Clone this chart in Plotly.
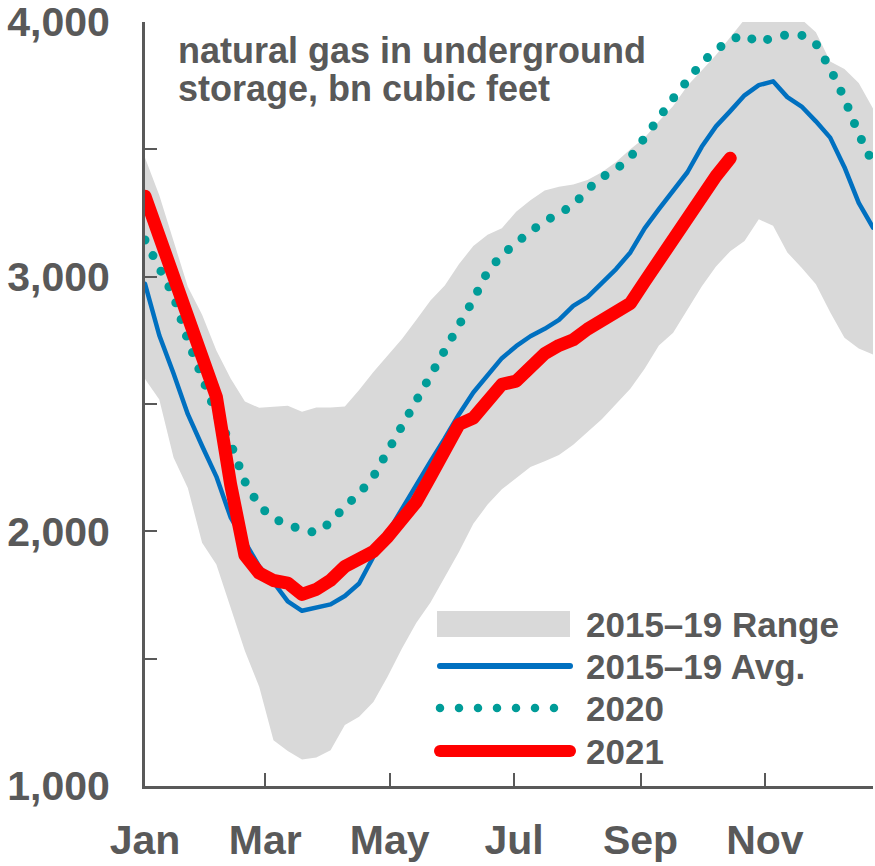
import plotly.graph_objects as go
import pandas as pd

# weekly storage readings, bn cubic feet (52 weeks on a 2021 calendar)
weeks = pd.date_range("2021-01-01", periods=52, freq="7D")

range_low = [2598, 2518, 2290, 2170, 1955, 1870, 1700, 1530, 1390, 1180,
             1137, 1104, 1112, 1140, 1240, 1272, 1330, 1430, 1540, 1640,
             1721, 1820, 1920, 2030, 2105, 2165, 2210, 2253, 2275, 2300,
             2340, 2390, 2440, 2500, 2560, 2638, 2730, 2780, 2870, 2961,
             3040, 3100, 3140, 3225, 3200, 3095, 3035, 2970, 2860, 2760,
             2718, 2694]
range_high = [3467, 3320, 3140, 2960, 2850, 2710, 2600, 2510, 2485, 2490,
              2493, 2470, 2486, 2486, 2490, 2555, 2626, 2690, 2755, 2830,
              2906, 2965, 3050, 3120, 3165, 3190, 3255, 3300, 3338, 3353,
              3362, 3380, 3410, 3450, 3500, 3545, 3610, 3670, 3750, 3810,
              3870, 3940, 4010, 4050, 4080, 4060, 4010, 3960, 3845, 3815,
              3760, 3660]
avg_1519 = [2972, 2770, 2620, 2460, 2335, 2215, 2055, 1960, 1862, 1800,
            1725, 1688, 1702, 1713, 1746, 1795, 1900, 1995, 2085, 2180,
            2275, 2365, 2460, 2545, 2615, 2680, 2727, 2766, 2795, 2830,
            2885, 2920, 2975, 3030, 3095, 3190, 3265, 3335, 3410, 3510,
            3590, 3650, 3712, 3752, 3767, 3705, 3668, 3610, 3546, 3430,
            3290, 3193]
y2020 = [3144, 3040, 2925, 2750, 2595, 2460, 2345, 2195, 2100, 2050,
         2028, 2005, 1995, 2035, 2098, 2148, 2215, 2317, 2418, 2518,
         2613, 2710, 2810, 2910, 3020, 3085, 3137, 3178, 3217, 3250,
         3280, 3342, 3390, 3422, 3468, 3546, 3628, 3700, 3770, 3840,
         3890, 3930, 3950, 3918, 3940, 3950, 3948, 3915, 3817, 3700,
         3560, 3445]
y2021 = [3316, 3157, 3000, 2840, 2680, 2528, 2184, 1906, 1836, 1807,
         1797, 1752, 1772, 1808, 1862, 1897, 1921, 1978, 2052, 2115,
         2215, 2320, 2420, 2445, 2510, 2577, 2590, 2640, 2698, 2730,
         2752, 2794, 2825, 2850, 2895, 2980, 3065, 3145, 3220, 3320,
         3395, 3465]

month_ticks = ["2021-01-01", "2021-03-01", "2021-05-01", "2021-07-01",
               "2021-09-01", "2021-11-01"]
month_labels = ["Jan", "Mar", "May", "Jul", "Sep", "Nov"]
y_ticks = [1000, 1500, 2000, 2500, 3000, 3500, 4000]
y_labels = ["1,000", "", "2,000", "", "3,000", "", "4,000"]
legend_names = ["2015–19 Range", "2015–19 Avg.", "2020", "2021"]
note_lines = ["natural gas in underground", "storage, bn cubic feet"]

GRAY = "#595959"
FILL = "#d9d9d9"
BLUE = "#0070c0"
TEAL = "#009c98"
RED = "#ff0000"
FONT = "Liberation Sans, Arial, sans-serif"


def px_x(v):
    return (v - 145) / 728


def px_y(v):
    return (786 - v) / 764


fig = go.Figure()
fig.add_trace(go.Scatter(x=weeks, y=range_low, mode="lines",
                         line=dict(width=0), hoverinfo="skip"))
fig.add_trace(go.Scatter(x=weeks, y=range_high, mode="lines", fill="tonexty",
                         fillcolor=FILL, line=dict(width=0)))
fig.add_trace(go.Scatter(x=weeks, y=avg_1519, mode="lines",
                         line=dict(color=BLUE, width=4.5)))
fig.add_trace(go.Scatter(x=weeks, y=y2020, mode="lines",
                         line=dict(color=TEAL, width=9, dash="0px,17.5px")))
fig.add_trace(go.Scatter(x=weeks[:len(y2021)], y=y2021, mode="lines",
                         line=dict(color=RED, width=13)))

# legend drawn by hand so the keys can be long like the original
key_y = [px_y(v) for v in (624, 666, 708, 751)]
fig.add_shape(type="rect", xref="paper", yref="paper", x0=px_x(437),
              x1=px_x(570), y0=px_y(637), y1=px_y(611),
              fillcolor=FILL, line=dict(width=0))
fig.add_shape(type="line", xref="paper", yref="paper", x0=px_x(440),
              x1=px_x(570), y0=key_y[1], y1=key_y[1],
              line=dict(color=BLUE, width=6))
fig.add_shape(type="line", xref="paper", yref="paper", x0=px_x(440),
              x1=px_x(556), y0=key_y[2], y1=key_y[2],
              line=dict(color=TEAL, width=8.5, dash="0px,19px"))
fig.add_shape(type="line", xref="paper", yref="paper", x0=px_x(440),
              x1=px_x(570), y0=key_y[3], y1=key_y[3],
              line=dict(color=RED, width=12))
for name, yy in zip(legend_names, key_y):
    fig.add_annotation(text=name, xref="paper", yref="paper",
                       x=px_x(584), y=yy, xanchor="left",
                       yanchor="middle", showarrow=False,
                       font=dict(family=FONT, size=35, color=GRAY,
                                 weight="bold"))

for line, top in zip(note_lines, (28, 66)):
    fig.add_annotation(text=line, xref="paper", yref="paper", x=px_x(176),
                       y=px_y(top), xanchor="left", yanchor="top",
                       showarrow=False,
                       font=dict(family=FONT, size=36, color=GRAY,
                                 weight="bold"))

fig.update_xaxes(type="date", range=["2021-01-01", "2021-12-24"],
                 tickvals=month_ticks, ticktext=month_labels,
                 ticks="inside", ticklen=13, tickwidth=2, tickcolor=GRAY,
                 showline=True, linecolor=GRAY, linewidth=3,
                 showgrid=False, zeroline=False, ticklabelstandoff=16,
                 automargin=False, ticklabeloverflow="allow",
                 tickfont=dict(family=FONT, size=41, color=GRAY,
                               weight="bold"))
fig.update_yaxes(range=[1000, 4000], tickvals=y_ticks, ticktext=y_labels,
                 ticks="inside", ticklen=12, tickwidth=2, tickcolor=GRAY,
                 showline=True, linecolor=GRAY, linewidth=3,
                 showgrid=False, zeroline=False, ticklabelstandoff=24,
                 automargin=False, ticklabeloverflow="allow",
                 tickfont=dict(family=FONT, size=41, color=GRAY,
                               weight="bold"))
fig.update_layout(width=875, height=866, showlegend=False,
                  plot_bgcolor="white", paper_bgcolor="white",
                  margin=dict(l=145, r=2, t=22, b=80))

# no page margin; round dots and round line ends, as in the original
post = """
document.body.style.margin = '0';
document.body.style.overflow = 'hidden';
var s = document.createElement('style');
s.textContent = '.js-line, .shapelayer path {stroke-linecap: round; stroke-linejoin: round;}';
document.head.appendChild(s);
"""
fig.write_html("out.html", post_script=post, config={"displayModeBar": False})
